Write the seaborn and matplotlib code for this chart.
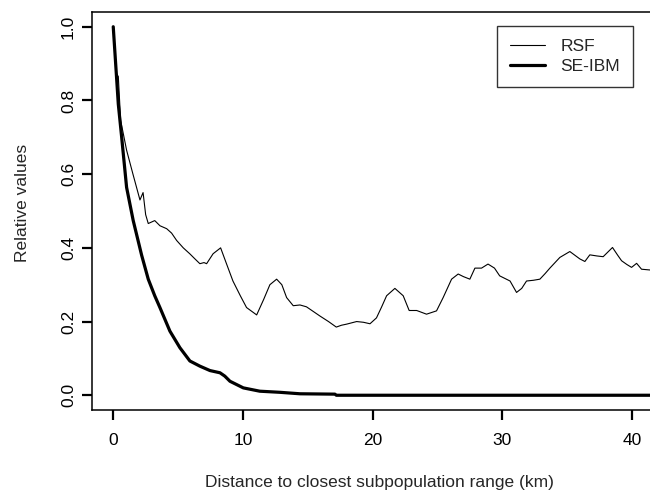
import numpy as np
import pandas as pd
import matplotlib
matplotlib.use("Agg")
import matplotlib.pyplot as plt
import seaborn as sns

# --- values ---
rsf_x = [0, 0.21, 0.39, 0.57, 1.03, 1.52, 2.06, 2.3, 2.5, 2.70, 3.2, 3.6, 4.12, 4.5,
         4.89, 5.4, 5.9, 6.3, 6.68, 7.0, 7.2, 7.7, 8.28, 8.7, 9.23, 9.8, 10.28, 11.06,
         11.6, 12.08, 12.6, 13.0, 13.37, 13.88, 14.4, 14.9, 15.4, 15.94, 16.6, 17.2,
         17.6, 18.0, 18.77, 19.3, 19.8, 20.3, 20.7, 21.08, 21.72, 22.36, 22.82, 23.4,
         24.16, 24.93, 25.44, 26.09, 26.6, 27.0, 27.5, 27.89, 28.4, 28.9, 29.4, 29.8,
         30.6, 31.1, 31.5, 31.87, 32.4, 32.9, 33.3, 33.67, 34.44, 35.21, 35.98, 36.37,
         36.75, 37.3, 37.78, 38.5, 38.9, 39.2, 39.6, 39.97, 40.36, 40.74, 41.38, 42.0]
rsf_y = [1.0, 0.875, 0.865, 0.746, 0.665, 0.60, 0.53, 0.55, 0.49, 0.466, 0.474, 0.46,
         0.452, 0.44, 0.42, 0.40, 0.384, 0.37, 0.357, 0.36, 0.357, 0.384, 0.40, 0.36,
         0.31, 0.27, 0.238, 0.218, 0.26, 0.30, 0.315, 0.30, 0.265, 0.243, 0.245, 0.24,
         0.228, 0.215, 0.20, 0.185, 0.19, 0.193, 0.20, 0.198, 0.194, 0.21, 0.24, 0.27,
         0.29, 0.27, 0.23, 0.23, 0.22, 0.229, 0.265, 0.315, 0.329, 0.322, 0.315, 0.345,
         0.345, 0.356, 0.345, 0.324, 0.31, 0.279, 0.29, 0.31, 0.312, 0.315, 0.33, 0.345,
         0.374, 0.39, 0.37, 0.363, 0.381, 0.378, 0.376, 0.401, 0.38, 0.365, 0.355, 0.347,
         0.358, 0.342, 0.34, 0.335]

ibm_x = [0, 0.13, 0.39, 0.65, 1.03, 1.54, 2.19, 2.7, 3.2, 3.6, 4.37, 5.14, 5.91, 6.68,
         7.46, 8.23, 8.6, 9.0, 10.03, 11.3, 12.85, 14.4, 17.1, 17.2, 42.0]
ibm_y = [1.0, 0.93, 0.79, 0.70, 0.564, 0.474, 0.38, 0.315, 0.27, 0.238, 0.174, 0.129,
         0.093, 0.079, 0.067, 0.061, 0.052, 0.038, 0.02, 0.011, 0.008, 0.004, 0.003,
         0.0, 0.0]

x_ticks = [0, 10, 20, 30, 40]
y_ticks = [0.0, 0.2, 0.4, 0.6, 0.8, 1.0]

sns.set_style("ticks")
plt.rcParams.update({
    'font.family': ['Liberation Sans', 'DejaVu Sans'],
    'font.size': 12.5,
})

fig = plt.figure(figsize=(6.5, 4.96), dpi=100)
# the right edge of the box runs past the figure, as in the cropped original
ax = fig.add_axes([0.1415, 0.1734, 0.883, 0.8024])

rsf = pd.DataFrame({'x': rsf_x, 'y': rsf_y})
ibm = pd.DataFrame({'x': ibm_x, 'y': ibm_y})
sns.lineplot(data=rsf, x='x', y='y', ax=ax, color='black', linewidth=0.8,
             estimator=None, label='RSF')
sns.lineplot(data=ibm, x='x', y='y', ax=ax, color='black', linewidth=2.3,
             estimator=None, label='SE-IBM')

ax.set_xlim(-1.64, 42.62)
ax.set_ylim(-0.04, 1.04)
ax.set_xticks(x_ticks)
ax.set_xticklabels([str(t) for t in x_ticks])
ax.set_yticks(y_ticks)
ax.set_yticklabels([f"{t:.1f}" for t in y_ticks], rotation=90, va='center')
ax.tick_params(labelsize=12.5, labelcolor='black')
ax.tick_params(axis='x', pad=13)
ax.tick_params(axis='y', pad=8)
# tick marks drawn explicitly, outward, in R's manner
for t in ax.xaxis.get_major_ticks() + ax.yaxis.get_major_ticks():
    t.tick1line.set_visible(True)
    t.tick1line.set_color('black')
    t.tick1line.set_markeredgecolor('black')
    t.tick1line.set_markersize(7.5)
    t.tick1line.set_markeredgewidth(1.6)
    t.tick1line.set_alpha(1.0)
    t.tick2line.set_visible(False)
for s in ax.spines.values():
    s.set_visible(True)
    s.set_color('black')
    s.set_linewidth(1.1)

ax.set_xlabel('Distance to closest subpopulation range (km)', fontsize=12.5)
ax.set_ylabel('Relative values', fontsize=12.5)
ax.xaxis.set_label_coords(0.5, -0.163)
ax.yaxis.set_label_coords(-0.108, 0.52)

leg = ax.legend(loc='upper right', bbox_to_anchor=(0.9425, 0.965), borderaxespad=0,
                fancybox=False, frameon=True, edgecolor='black', fontsize=12.5,
                handlelength=2.0, borderpad=0.75, labelspacing=0.25,
                handletextpad=0.9)
leg.get_frame().set_linewidth(1.0)

fig.savefig('out.png', dpi=100)
